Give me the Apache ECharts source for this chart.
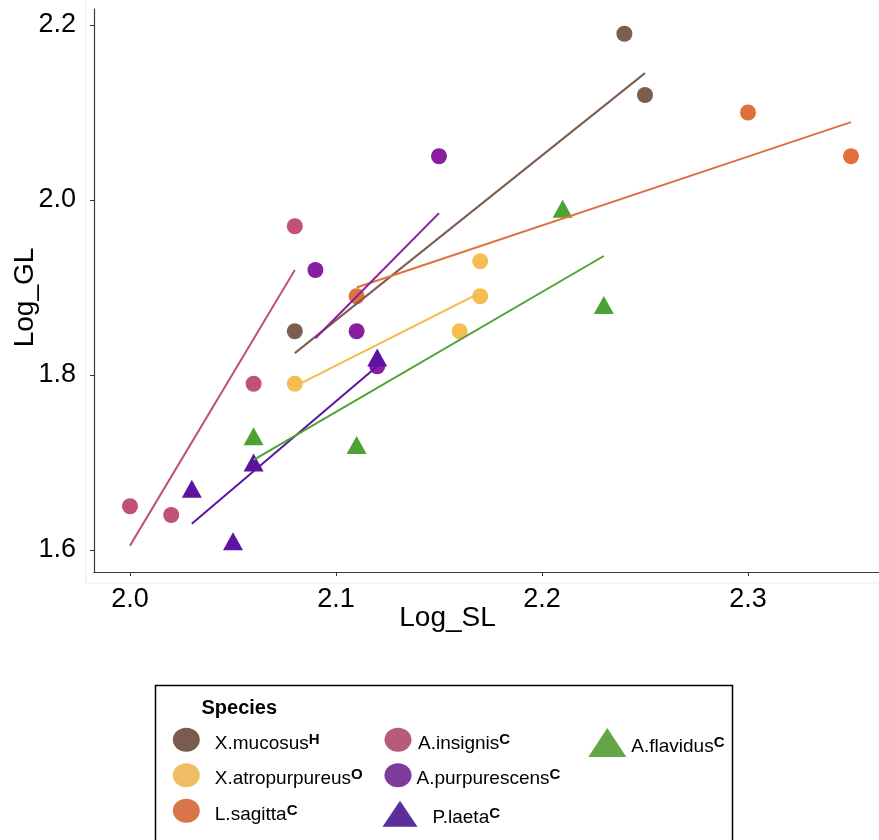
<!DOCTYPE html>
<html>
<head>
<meta charset="utf-8">
<script src="https://cdn.jsdelivr.net/npm/echarts@6/dist/echarts.min.js"></script>
<style>html,body{margin:0;padding:0;background:#fff}#c{width:879px;height:840px}</style>
</head>
<body>
<div id="c"></div>
<script>
// ---- data ----
const xTicks = [2.0, 2.1, 2.2, 2.3];
const yTicks = [1.6, 1.8, 2.0, 2.2];

const mucosusSL = [2.08, 2.24, 2.25];
const mucosusGL = [1.85, 2.19, 2.12];
const mucosusFitSL = [2.08, 2.25];
const mucosusFitGL = [1.825, 2.145];

const atroSL = [2.08, 2.16, 2.17, 2.17];
const atroGL = [1.79, 1.85, 1.89, 1.93];
const atroFitSL = [2.08, 2.17];
const atroFitGL = [1.787, 1.894];

const sagittaSL = [2.11, 2.30, 2.35];
const sagittaGL = [1.89, 2.10, 2.05];
const sagittaFitSL = [2.11, 2.35];
const sagittaFitGL = [1.900, 2.089];

const insignisSL = [2.00, 2.02, 2.06, 2.08];
const insignisGL = [1.65, 1.64, 1.79, 1.97];
const insignisFitSL = [2.00, 2.08];
const insignisFitGL = [1.605, 1.920];

const purpSL = [2.09, 2.11, 2.12, 2.15];
const purpGL = [1.92, 1.85, 1.81, 2.05];
const purpFitSL = [2.09, 2.15];
const purpFitGL = [1.842, 1.985];

const laetaSL = [2.03, 2.05, 2.06, 2.12];
const laetaGL = [1.67, 1.61, 1.70, 1.82];
const laetaFitSL = [2.03, 2.12];
const laetaFitGL = [1.630, 1.810];

const flavSL = [2.06, 2.11, 2.21, 2.23];
const flavGL = [1.73, 1.72, 1.99, 1.88];
const flavFitSL = [2.06, 2.23];
const flavFitGL = [1.703, 1.936];

const speciesNames = ['X.mucosus', 'X.atropurpureus', 'L.sagitta', 'A.insignis', 'A.purpurescens', 'P.laeta', 'A.flavidus'];
const speciesSup = ['H', 'O', 'C', 'C', 'C', 'C', 'C'];

// ---- styling ----
const FONT = '"Liberation Sans", Arial, Helvetica, sans-serif';
const species = [
  {name: speciesNames[0], sl: mucosusSL, gl: mucosusGL, fx: mucosusFitSL, fy: mucosusFitGL, color: '#7C5E4F', legendColor: '#7A5C4E', shape: 'circle'},
  {name: speciesNames[1], sl: atroSL, gl: atroGL, fx: atroFitSL, fy: atroFitGL, color: '#F4BE52', legendColor: '#EFBE64', shape: 'circle'},
  {name: speciesNames[2], sl: sagittaSL, gl: sagittaGL, fx: sagittaFitSL, fy: sagittaFitGL, color: '#E1713A', legendColor: '#D8754B', shape: 'circle'},
  {name: speciesNames[3], sl: insignisSL, gl: insignisGL, fx: insignisFitSL, fy: insignisFitGL, color: '#C1507A', legendColor: '#B85B7A', shape: 'circle'},
  {name: speciesNames[4], sl: purpSL, gl: purpGL, fx: purpFitSL, fy: purpFitGL, color: '#8A1EA0', legendColor: '#7D3B9B', shape: 'circle'},
  {name: speciesNames[5], sl: laetaSL, gl: laetaGL, fx: laetaFitSL, fy: laetaFitGL, color: '#5C14A0', legendColor: '#5A2F9B', shape: 'triangle'},
  {name: speciesNames[6], sl: flavSL, gl: flavGL, fx: flavFitSL, fy: flavFitGL, color: '#4DA332', legendColor: '#63A647', shape: 'triangle'}
];

const series = [];
species.forEach(function (s) {
  series.push({
    type: 'scatter', name: s.name,
    data: s.sl.map(function (v, i) { return [v, s.gl[i]]; }),
    symbol: s.shape,
    symbolSize: s.shape === 'circle' ? 16 : [20, 18],
    itemStyle: {color: s.color, opacity: 1},
    z: 2, silent: true
  });
});
species.forEach(function (s) {
  series.push({
    type: 'line', name: s.name + ' fit',
    data: s.fx.map(function (v, i) { return [v, s.fy[i]]; }),
    showSymbol: false, symbol: 'none',
    lineStyle: {color: s.color, width: 2},
    z: 3, silent: true
  });
});

const ellipse = 'path://M50,0A50,50,0,1,1,50,100A50,50,0,1,1,50,0Z';
// legend item placement: [index, iconCenterX, iconCenterY, iconW, iconH, textPadLeft]
const legendPlace = [
  [0, 186.3, 743.7, 27, 24, 10],
  [1, 186.3, 779.2, 27, 24, 10],
  [2, 186.3, 814.7, 27, 24, 10],
  [3, 398.0, 743.7, 27, 24, 1.5],
  [4, 398.0, 779.2, 27, 24, 0],
  [5, 400.0, 816.7, 35, 26, 10],
  [6, 607.3, 744.0, 38, 29, 0]
];
const legends = legendPlace.map(function (p) {
  const s = species[p[0]];
  return {
    show: true, orient: 'vertical', padding: 0,
    left: p[1] - p[3] / 2, top: p[2] - 16,
    itemWidth: p[3], itemHeight: p[4],
    symbolKeepAspect: false,
    selectedMode: false,
    data: [{name: s.name, icon: s.shape === 'circle' ? ellipse : 'triangle', itemStyle: {color: s.legendColor}}],
    formatter: function (n) { return '{n|' + n + '}{s|' + speciesSup[speciesNames.indexOf(n)] + '}'; },
    textStyle: {
      padding: [8, 0, 0, p[5]],
      rich: {
        n: {fontSize: 19, lineHeight: 24, color: '#000', fontFamily: FONT},
        s: {fontSize: 15, lineHeight: 24, fontWeight: 'bold', color: '#000', fontFamily: FONT, padding: [0, 0, 8, 0]}
      }
    }
  };
});

const chart = echarts.init(document.getElementById('c'), null, {renderer: 'canvas'});
chart.setOption({
  animation: false,
  backgroundColor: '#ffffff',
  grid: {left: 94, top: 9, width: 785, height: 563, containLabel: false, outerBoundsMode: 'none'},
  xAxis: {
    type: 'value', min: 1.98252, max: 2.36359,
    name: 'Log_SL', nameLocation: 'middle', nameGap: 32, nameMoveOverlap: false,
    nameTextStyle: {fontSize: 28, color: '#000', fontFamily: FONT, padding: [0, 78, 0, 0]},
    axisLine: {show: true, onZero: false, lineStyle: {color: '#3a3a3a', width: 1.2}},
    axisTick: {show: true, length: 4, lineStyle: {color: '#3a3a3a'}, customValues: xTicks},
    axisLabel: {customValues: xTicks, fontSize: 27, color: '#000', fontFamily: FONT, margin: 14,
      formatter: function (v) { return v.toFixed(1); }},
    splitLine: {show: false}
  },
  yAxis: {
    type: 'value', min: 1.57486, max: 2.21829,
    name: 'Log_GL', nameLocation: 'middle', nameGap: 55, nameMoveOverlap: false,
    nameTextStyle: {fontSize: 28, color: '#000', fontFamily: FONT, padding: [0, 14, 0, 0]},
    axisLine: {show: true, onZero: false, lineStyle: {color: '#3a3a3a', width: 1.2}},
    axisTick: {show: true, length: 4, lineStyle: {color: '#3a3a3a'}, customValues: yTicks},
    axisLabel: {customValues: yTicks, fontSize: 27, color: '#000', fontFamily: FONT, margin: 18,
      formatter: function (v) { return v.toFixed(1); }},
    splitLine: {show: false}
  },
  legend: legends,
  graphic: [
    {type: 'rect', z: -10, silent: true, shape: {x: 85.5, y: -2, width: 900, height: 585}, style: {fill: 'none', stroke: '#ebebeb', lineWidth: 1}},
    {type: 'rect', z: 1, silent: true, shape: {x: 155.5, y: 685.5, width: 577, height: 200}, style: {fill: 'none', stroke: '#000', lineWidth: 1.5}},
    {type: 'text', z: 2, silent: true, x: 201.5, y: 708, style: {text: 'Species', fontSize: 20, fontWeight: 'bold', fontFamily: FONT, fill: '#000', verticalAlign: 'middle', align: 'left'}}
  ],
  series: series
});
</script>
</body>
</html>
